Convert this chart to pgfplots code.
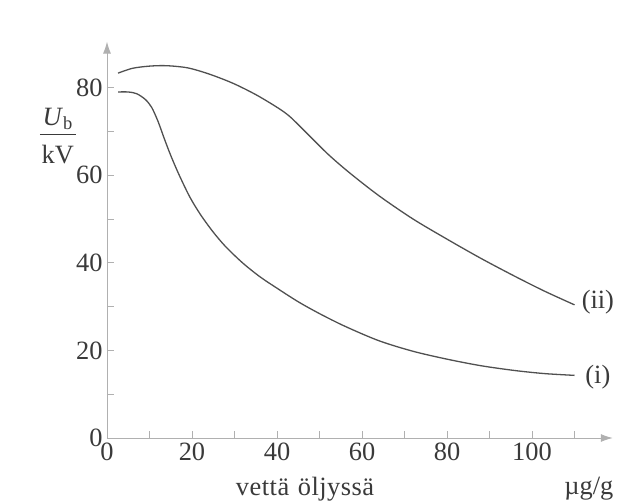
\documentclass[border=0pt]{standalone}
\usepackage{fontspec}
\setmainfont{Liberation Serif}
\usepackage{pgfplots}
\pgfplotsset{compat=1.18}
\usetikzlibrary{arrows.meta}

\definecolor{curvegray}{HTML}{505050}
\definecolor{axisgray}{HTML}{B0B0B0}
\definecolor{textgray}{HTML}{3A3A3A}
\newcommand{\lbl}{\fontsize{26.5}{31}\selectfont}

\begin{document}
\begin{tikzpicture}
% page = 618 x 502, axis origin sits 107 from the left, 64 from the bottom
\useasboundingbox (-107bp,-64bp) rectangle (511bp,438bp);
\begin{axis}[
    at={(0,0)}, anchor=origin,
    scale only axis,
    width=505.75bp, height=396.4bp,
    xmin=0, xmax=119, ymin=0, ymax=90.5,
    axis lines=left,
    axis line style={axisgray, line width=0.9bp, -{Latex[length=12bp,width=8bp]}},
    xtick={0,20,...,100}, minor xtick={10,30,...,110},
    ytick={0,20,...,80}, minor ytick={10,30,...,70},
    tick align=inside,
    major tick length=7bp, minor tick length=7bp,
    tick style={axisgray, line width=0.8bp},
    tick label style={font=\lbl, text=textgray},
    /pgf/number format/assume math mode=true,
    xticklabel style={yshift=-1bp},
    yticklabel style={xshift=-1bp},
    clip=false,
]

% (ii)
\addplot[curvegray, line width=1.3bp, smooth] coordinates {
(2.6,83.3) (6,84.4) (10,84.9) (14,85.0) (19,84.5) (24,83.1) (29.6,81.0)
(35,78.4) (40,75.5) (43,73.4) (47,69.6) (52,64.8) (57,60.6) (64,55.3)
(72,50.0) (80,45.4) (88,41.0) (96,36.9) (103,33.5) (110,30.4)
};

% (i)
\addplot[curvegray, line width=1.3bp, smooth] coordinates {
(2.6,79.0) (5,79.0) (7,78.6) (9,77.3) (10.5,75.5) (12,72.3) (13.5,68.3)
(15,64.5) (17,60.0) (19.5,55.0) (22,51.0) (25,47.0) (28,43.6) (32,39.9)
(36,36.8) (40,34.2) (45,31.1) (50,28.4) (56,25.5) (64,22.2) (72,19.8)
(80,18.0) (88,16.5) (96,15.4) (103,14.7) (110,14.3)
};

\node[text=textgray, font=\lbl] at (axis cs:115.5,31) {(ii)};
\node[text=textgray, font=\lbl] at (axis cs:115.5,13.8) {(i)};
\node[text=textgray, font=\lbl] at (axis cs:46.6,-11.6) {v\kern0.5bp e\kern0.5bp t\kern0.5bp t\kern0.5bp ä\kern2bp\ ö\kern0.5bp l\kern0.5bp j\kern0.5bp y\kern0.5bp s\kern0.5bp s\kern0.5bp ä};
\node[text=textgray, font=\lbl] at (axis cs:113.4,-11.6) {µg/g};
% U_b / kV as a stacked fraction
\node[text=textgray, font=\lbl, inner sep=0pt, anchor=base] at (axis cs:-11.6,71.3) {\textit{U}\textsubscript{b}};
\draw[textgray, line width=0.9bp] (axis cs:-15.8,69.4) -- (axis cs:-7.4,69.4);
\node[text=textgray, font=\lbl, inner sep=0pt, anchor=base] at (axis cs:-11.6,62.7) {kV};

\end{axis}
\end{tikzpicture}
\end{document}
